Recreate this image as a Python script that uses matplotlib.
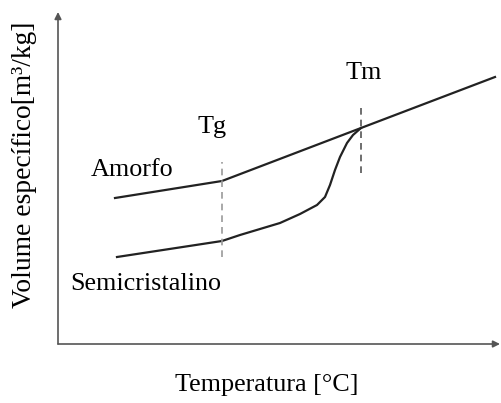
import matplotlib
matplotlib.use("Agg")
import matplotlib.pyplot as plt

plt.rcParams['font.family'] = ['Liberation Serif', 'DejaVu Serif']

# curve data (arbitrary units: temperature, specific volume)
amorfo_t = [57, 164, 303, 437]
amorfo_v = [146, 163, 216, 267]

semi_t = [59, 164, 182, 202, 222, 242, 259, 267, 272, 277, 282, 289, 295, 303]
semi_v = [87, 103, 109, 115, 121, 130, 139, 147, 159, 174, 187, 201, 209, 216]

tg = 164
tg_range = [87, 182]
tm = 303
tm_range = [171, 239]

W, H = 502, 403
fig = plt.figure(figsize=(W / 100, H / 100), dpi=100)
ox, oy = 58, 344
ax = fig.add_axes([ox / W, (H - oy) / H, (W - ox) / W, oy / H])
ax.set_xlim(0, W - ox)
ax.set_ylim(0, oy)
ax.axis('off')

# axes with arrows
axis_col = '#555555'
ax.annotate('', xy=(0, 332), xytext=(0, 0),
            arrowprops=dict(arrowstyle='-|>', color=axis_col, lw=1.2,
                            mutation_scale=10, shrinkA=0, shrinkB=0))
ax.annotate('', xy=(442, 0), xytext=(0, 0),
            arrowprops=dict(arrowstyle='-|>', color=axis_col, lw=1.2,
                            mutation_scale=10, shrinkA=0, shrinkB=0))

ax.plot(amorfo_t, amorfo_v, color='#222222', lw=1.6, solid_joinstyle='round')
ax.plot(semi_t, semi_v, color='#222222', lw=1.6, solid_joinstyle='round')

ax.plot([tg, tg], tg_range, color='#999999', lw=1.2, ls=(0, (4, 3)))
ax.plot([tm, tm], tm_range, color='#555555', lw=1.2, ls=(0, (4, 3)))

fs = 18.8
ax.text(154, 217, 'Tg', fontsize=fs, ha='center', va='center')
ax.text(306, 271, 'Tm', fontsize=fs, ha='center', va='center')
ax.text(74, 174, 'Amorfo', fontsize=fs, ha='center', va='center')
ax.text(88, 60, 'Semicristalino', fontsize=fs, ha='center', va='center')

fig.text(267 / W, 1 - 385 / H, 'Temperatura [°C]', fontsize=fs,
         ha='center', va='center')
fig.text(25 / W, 1 - 165 / H, 'Volume específico[m³/kg]', fontsize=19.8,
         ha='center', va='center', rotation=90)

fig.savefig('out.png', dpi=100)
